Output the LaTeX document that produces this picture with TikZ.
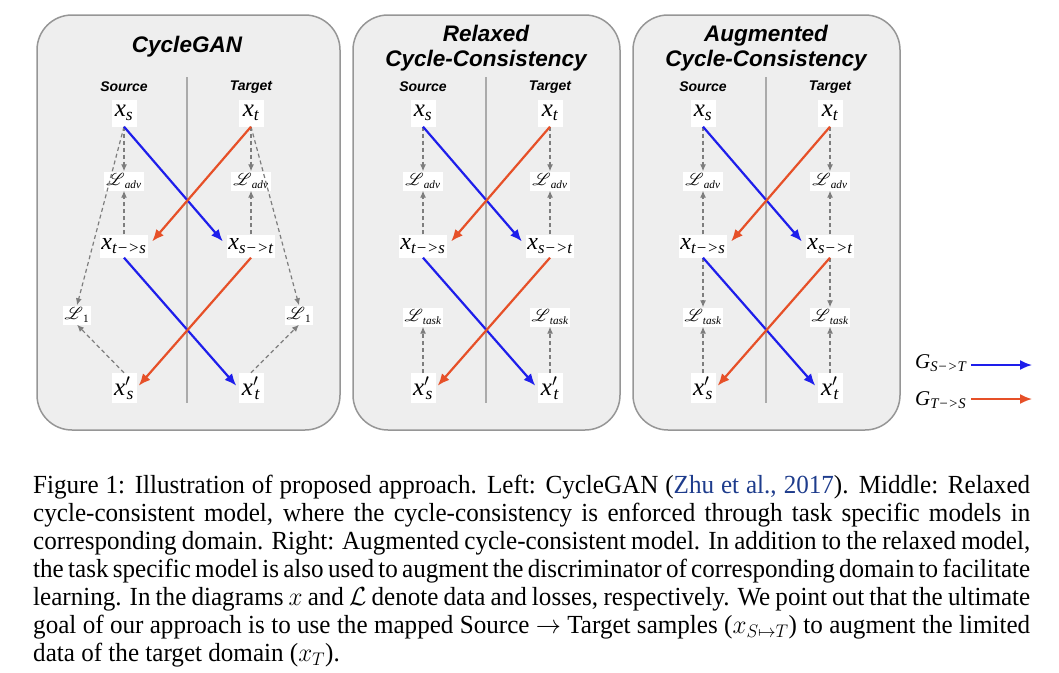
\RequirePackage{fix-cm}
\documentclass[tikz,border=0pt]{standalone}
\usepackage{amsmath}
\usepackage{mathrsfs}
\usepackage{graphicx}
\usepackage{fontspec}
\setmainfont{Liberation Serif}
\newfontfamily\hdfont{Liberation Sans}
\usetikzlibrary{arrows.meta}
\definecolor{panelfill}{RGB}{238,238,238}
\definecolor{panelline}{RGB}{150,150,150}
\definecolor{gblue}{RGB}{30,30,235}
\definecolor{gred}{RGB}{230,80,40}
\definecolor{dgray}{RGB}{125,125,125}
\definecolor{divgray}{RGB}{170,170,170}
\definecolor{citeblue}{RGB}{30,60,140}
\newcommand\xlab[1]{{\itshape x}\textsubscript{\itshape #1}}
\newcommand\xplab[1]{{\itshape x}$'$\kern-0.15em\textsubscript{\itshape #1}}
\newcommand\llab[1]{$\mathscr{L}$\textsubscript{#1}}
\tikzset{
 panelbox/.style={draw=panelline, fill=panelfill, line width=1.5pt, rounded corners=35pt},
 divider/.style={draw=divgray, line width=1.5pt},
 ptitle/.style={font=\hdfont\bfseries\itshape\fontsize{22.5}{25}\selectfont, align=center, inner sep=0pt},
 sidelab/.style={font=\hdfont\bfseries\itshape\fontsize{14}{16}\selectfont, inner sep=0pt},
 xnode/.style={fill=white, inner sep=1.5pt, font=\fontsize{25}{27}\selectfont, minimum width=25pt, minimum height=27pt},
 xtnode/.style={fill=white, inner sep=1.5pt, font=\fontsize{24}{26}\selectfont, minimum height=23pt},
 xpnode/.style={fill=white, inner sep=1.5pt, font=\fontsize{25}{27}\selectfont, minimum width=25pt, minimum height=30pt},
 lnode/.style={fill=white, inner sep=2pt, font=\fontsize{16}{18}\selectfont, minimum height=19pt},
 genarrow/.style={line width=2.2pt, -{Latex[length=12pt,width=10pt]}},
 gst/.style={genarrow, draw=gblue, fill=gblue},
 gts/.style={genarrow, draw=gred, fill=gred},
 lossarrow/.style={draw=dgray, line width=1.2pt, dash pattern=on 4pt off 3pt, -{Latex[length=7pt,width=6pt]}},
 legtext/.style={font=\fontsize{21}{23}\selectfont, inner sep=0pt},
}
\begin{document}
\begin{tikzpicture}[x=1pt,y=-1pt]
\useasboundingbox (0,0) rectangle (1059,672);

% ---------------- Panel 1: CycleGAN ----------------
\draw[panelbox] (37,15) rectangle (340,430);
\draw[divider] (187,77) -- (187,403);
\node[ptitle] (ta) at (187,47) {CycleGAN};
\node[sidelab] (sa) at (124,87) {Source};
\node[sidelab] (ga) at (251,87) {Target};
\node[xnode] (axs) at (124,113) {\xlab{s}};
\node[xnode] (axt) at (251,113) {\xlab{t}};
\node[lnode] (alas) at (124,181) {\llab{\itshape adv}};
\node[lnode] (alat) at (251,181) {\llab{\itshape adv}};
\node[xtnode] (axts) at (124,246) {\xlab{t−>s}};
\node[xtnode] (axst) at (251,246) {\xlab{s−>t}};
\node[lnode] (alos) at (77,315) {\llab{1}};
\node[lnode] (alot) at (299,315) {\llab{1}};
\node[xpnode] (axps) at (124,388) {\xplab{s}};
\node[xpnode] (axpt) at (251,388) {\xplab{t}};
\draw[lossarrow] (axs.south) -- (alas.north);
\draw[lossarrow] (axts.north) -- (alas.south);
\draw[lossarrow] (axt.south) -- (alat.north);
\draw[lossarrow] (axst.north) -- (alat.south);
\draw[lossarrow] (axs.south) -- (alos.north);
\draw[lossarrow] (axps.north) -- (alos.south);
\draw[lossarrow] (axt.south) -- (alot.north);
\draw[lossarrow] (axpt.north) -- (alot.south);
\draw[gst, shorten >=6pt] (axs.south) -- (axst.west);
\draw[gts, shorten >=6pt] (axt.south) -- (axts.east);
\draw[gst, shorten >=3pt] (axts.south) -- (axpt.west);
\draw[gts, shorten >=3pt] (axst.south) -- (axps.east);

% ---------------- Panel 2: Relaxed ----------------
\draw[panelbox] (353,15) rectangle (620,430);
\draw[divider] (486,77) -- (486,403);
\node[ptitle] (tb) at (486,48) {Relaxed\\Cycle-Consistency};
\node[sidelab] (sb) at (423,87) {Source};
\node[sidelab] (gb) at (550,87) {Target};
\node[xnode] (bxs) at (423,113) {\xlab{s}};
\node[xnode] (bxt) at (550,113) {\xlab{t}};
\node[lnode] (blas) at (423,181) {\llab{\itshape adv}};
\node[lnode] (blat) at (550,181) {\llab{\itshape adv}};
\node[xtnode] (bxts) at (423,246) {\xlab{t−>s}};
\node[xtnode] (bxst) at (550,246) {\xlab{s−>t}};
\node[lnode] (blts) at (423,317) {\llab{\itshape task}};
\node[lnode] (bltt) at (550,317) {\llab{\itshape task}};
\node[xpnode] (bxps) at (423,388) {\xplab{s}};
\node[xpnode] (bxpt) at (550,388) {\xplab{t}};
\draw[lossarrow] (bxs.south) -- (blas.north);
\draw[lossarrow] (bxts.north) -- (blas.south);
\draw[lossarrow] (bxt.south) -- (blat.north);
\draw[lossarrow] (bxst.north) -- (blat.south);
\draw[lossarrow] (bxps.north) -- (blts.south);
\draw[lossarrow] (bxpt.north) -- (bltt.south);
\draw[gst, shorten >=6pt] (bxs.south) -- (bxst.west);
\draw[gts, shorten >=6pt] (bxt.south) -- (bxts.east);
\draw[gst, shorten >=3pt] (bxts.south) -- (bxpt.west);
\draw[gts, shorten >=3pt] (bxst.south) -- (bxps.east);

% ---------------- Panel 3: Augmented ----------------
\draw[panelbox] (633,15) rectangle (900,430);
\draw[divider] (766,77) -- (766,403);
\node[ptitle] (tc) at (766,48) {Augmented\\Cycle-Consistency};
\node[sidelab] (sc) at (703,87) {Source};
\node[sidelab] (gc) at (830,87) {Target};
\node[xnode] (cxs) at (703,113) {\xlab{s}};
\node[xnode] (cxt) at (830,113) {\xlab{t}};
\node[lnode] (clas) at (703,181) {\llab{\itshape adv}};
\node[lnode] (clat) at (830,181) {\llab{\itshape adv}};
\node[xtnode] (cxts) at (703,246) {\xlab{t−>s}};
\node[xtnode] (cxst) at (830,246) {\xlab{s−>t}};
\node[lnode] (clts) at (703,317) {\llab{\itshape task}};
\node[lnode] (cltt) at (830,317) {\llab{\itshape task}};
\node[xpnode] (cxps) at (703,388) {\xplab{s}};
\node[xpnode] (cxpt) at (830,388) {\xplab{t}};
\draw[lossarrow] (cxs.south) -- (clas.north);
\draw[lossarrow] (cxts.north) -- (clas.south);
\draw[lossarrow] (cxt.south) -- (clat.north);
\draw[lossarrow] (cxst.north) -- (clat.south);
\draw[lossarrow] (cxts.south) -- (clts.north);
\draw[lossarrow] (cxst.south) -- (cltt.north);
\draw[lossarrow] (cxps.north) -- (clts.south);
\draw[lossarrow] (cxpt.north) -- (cltt.south);
\draw[gst, shorten >=6pt] (cxs.south) -- (cxst.west);
\draw[gts, shorten >=6pt] (cxt.south) -- (cxts.east);
\draw[gst, shorten >=3pt] (cxts.south) -- (cxpt.west);
\draw[gts, shorten >=3pt] (cxst.south) -- (cxps.east);

% ---------------- Legend ----------------
\node[legtext, anchor=west] (legst) at (915,363) {{\itshape G}\textsubscript{\itshape S−>T}};
\node[legtext, anchor=west] (legts) at (915,400) {{\itshape G}\textsubscript{\itshape T−>S}};
\coordinate (legstend) at (1032,365);
\coordinate (legtsend) at (1032,399);
\draw[gst, line width=1.8pt, shorten <=5pt] (legst.east |- legstend) -- (legstend);
\draw[gts, line width=1.8pt, shorten <=5pt] (legts.east |- legtsend) -- (legtsend);

% ---------------- Caption ----------------
\node[anchor=north west, inner sep=0pt] (cap) at (33,475)
{\scalebox{1}[1.04]{\parbox[t]{997pt}{\fontsize{25.1}{26.9}\selectfont
Figure 1: Illustration of proposed approach. Left: CycleGAN ({\color{citeblue}Zhu et al., 2017}). Middle: Relaxed cycle-consistent model, where the cycle-consistency is enforced through task specific models in corresponding domain. Right: Augmented cycle-consistent model. In addition to the relaxed model, the task specific model is also used to augment the discriminator of corresponding domain to facilitate learning. In the diagrams $x$ and $\mathcal{L}$ denote data and losses, respectively. We point out that the ultimate goal of our approach is to use the mapped Source $\rightarrow$ Target samples ($x_{S\mapsto T}$) to augment the limited data of the target domain ($x_T$).}}};
\end{tikzpicture}
\end{document}
